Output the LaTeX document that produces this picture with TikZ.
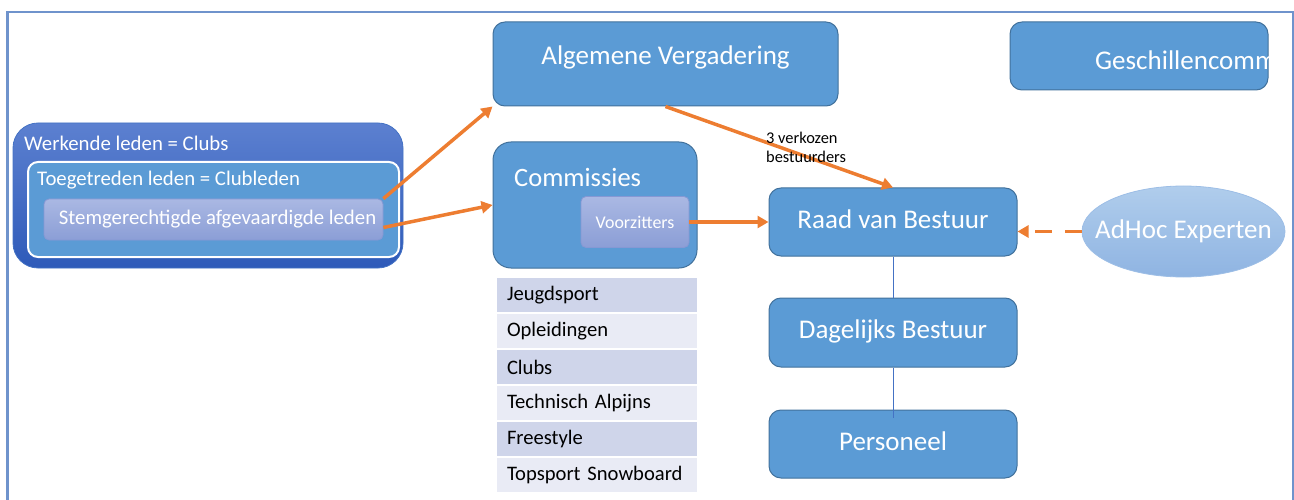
\documentclass[tikz,border=0pt]{standalone}
\usepackage{fontspec}
\setmainfont{Carlito}
\usetikzlibrary{arrows.meta,shapes.geometric}
\definecolor{officeblue}{RGB}{91,155,213}
\definecolor{officeedge}{RGB}{65,113,156}
\definecolor{orangeline}{RGB}{237,125,49}
\definecolor{framecol}{RGB}{111,147,204}
\definecolor{rowdark}{RGB}{207,213,234}
\definecolor{rowlight}{RGB}{233,235,245}
\definecolor{lavedge}{RGB}{134,152,212}
\definecolor{lavtop}{RGB}{170,184,227}
\definecolor{lavbottom}{RGB}{139,158,214}
\definecolor{treeline}{RGB}{68,114,196}
\definecolor{werktop}{RGB}{92,128,208}
\definecolor{werkbottom}{RGB}{46,90,185}
\definecolor{adedge}{RGB}{157,190,230}
\definecolor{adtop}{RGB}{176,205,236}
\definecolor{adbottom}{RGB}{143,180,226}
\tikzset{
    orgbox/.style={draw=officeedge, line width=1pt, fill=officeblue,
        rounded corners=12pt, inner sep=0pt, text=white, text depth=6pt,
        font=\fontsize{27}{31}\selectfont},
    lavbox/.style={draw=lavedge, line width=0.8pt,
        top color=lavtop, bottom color=lavbottom,
        rounded corners=5pt, inner sep=0pt, text=white},
    boxtext/.style={text=white, inner sep=0pt},
    rowbox/.style={minimum width=200pt, minimum height=34pt, inner sep=0pt,
        text width=180pt, align=left, font=\fontsize{20.6}{24}\selectfont},
    elect/.style={draw=orangeline, line width=3.5pt,
        -{Triangle[length=11pt, width=12pt]}},
    tree/.style={draw=treeline, line width=0.8pt}
}

\begin{document}
\begin{tikzpicture}[x=1pt, y=-1pt]
\useasboundingbox (0,0) rectangle (1294,500);

% frame
\draw[framecol, line width=2.5pt] (7.5,500) -- (7.5,12) -- (1293,12) -- (1293,500);

% members
\node[draw=treeline, line width=0.8pt, top color=werktop, bottom color=werkbottom,
    rounded corners=25pt, minimum width=390pt, minimum height=145pt]
    (werk) at (208,195.5) {};
\node[boxtext, anchor=west, font=\fontsize{20.8}{24}\selectfont]
    (werktext) at (24,143) {Werkende leden = Clubs};
\node[draw=white, line width=2pt, fill=officeblue, rounded corners=10pt,
    minimum width=371pt, minimum height=95pt]
    (toeg) at (213.5,209.5) {};
\node[boxtext, anchor=west, font=\fontsize{20.8}{24}\selectfont]
    (toegtext) at (37,180) {Toegetreden leden = Clubleden};
\node[lavbox, minimum width=339pt, minimum height=41pt,
    font=\fontsize{20.8}{24}\selectfont]
    (stem) at (213.5,219.5) {\hspace*{8pt}Stemgerechtigde afgevaardigde leden};

% bodies
\node[orgbox, minimum width=345pt, minimum height=84pt] (av) at (665.5,64) {};
\node[boxtext, font=\fontsize{27}{31}\selectfont] (avtext) at (665.5,57) {Algemene Vergadering};

\node[orgbox, minimum width=258pt, minimum height=68pt] (gc) at (1139,56) {};
\begin{scope}
    \clip (gc.south west) rectangle (gc.north east);
    \node[boxtext, anchor=west, font=\fontsize{27}{31}\selectfont] (gctext) at (1095,60) {Geschillencomm};
\end{scope}

\node[orgbox, rounded corners=18pt, minimum width=204pt, minimum height=126pt] (com) at (595,205) {};
\node[boxtext, anchor=west, font=\fontsize{26.5}{30}\selectfont] (comtext) at (514,177) {Commissies};
\node[lavbox, minimum width=108pt, minimum height=51pt,
    font=\fontsize{17.9}{21}\selectfont] (vz) at (635,222) {Voorzitters};

\node[orgbox, minimum width=248pt, minimum height=68pt] (raad) at (893,222) {Raad van Bestuur};
\node[orgbox, minimum width=248pt, minimum height=69pt] (db) at (893,332.5) {Dagelijks Bestuur};
\node[orgbox, minimum width=248pt, minimum height=68pt] (pers) at (893,444) {Personeel};

\node[ellipse, draw=adedge, line width=0.8pt, top color=adtop, bottom color=adbottom,
    minimum width=203pt, minimum height=91pt, inner sep=0pt] (adhoc) at (1183.5,231.5) {};
\node[boxtext, font=\fontsize{27}{31}\selectfont] (adtext) at (adhoc.center) {AdHoc Experten};

% commission list
\foreach \name [count=\i] in {Jeugdsport, Opleidingen, Clubs, Technisch Alpijns, Freestyle, Topsport Snowboard}{
    \pgfmathsetmacro{\rowy}{259+36*\i}
    \ifodd\i \def\rowfill{rowdark}\else \def\rowfill{rowlight}\fi
    \node[rowbox, fill=\rowfill] (row\i) at (597,\rowy) {\name};
}

% connectors
\draw[tree] (raad) -- (db);
\draw[tree] (db.south) -- ([yshift=-8pt]pers.north);
\draw[elect] (stem.north east) -- (av.south west);
\draw[elect] ([yshift=-8pt]stem.east) -- (com.west);
\draw[elect] (vz.east) -- (raad.west);
\draw[elect] (av.south) -- (raad.north);
\draw[orangeline, line width=3.5pt, dash pattern=on 17pt off 13pt,
    -{Triangle[length=11pt, width=12pt]}] (adhoc.west) -- (adhoc.west -| raad.east);
\node[anchor=north west, align=left, inner sep=0pt,
    font=\fontsize{16.4}{19}\selectfont] (verkozen) at (766,132) {3 verkozen\\bestuurders};
\end{tikzpicture}
\end{document}
